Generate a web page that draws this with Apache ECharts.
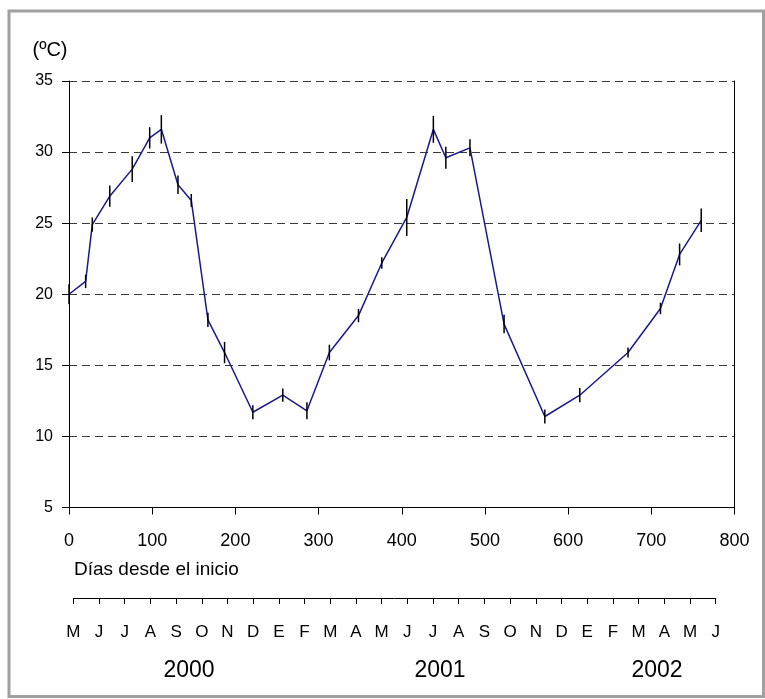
<!DOCTYPE html>
<html>
<head>
<meta charset="utf-8">
<script src="https://cdn.jsdelivr.net/npm/echarts@6/dist/echarts.min.js"></script>
<style>html,body{margin:0;padding:0;background:#fff}#c{width:765px;height:699px}</style>
</head>
<body>
<div id="c"></div>
<script>
// Días desde el inicio
const days = [0, 20, 28, 49, 76, 97, 111, 131, 147, 167, 187, 221, 257, 286, 313, 348, 376, 406, 438, 453, 482, 523, 572, 614, 672, 711, 734, 760];
// Temperatura (ºC)
const temps = [20.0, 20.9, 24.9, 26.9, 28.8, 31.0, 31.6, 27.7, 26.6, 18.2, 15.9, 11.7, 12.9, 11.8, 15.9, 18.5, 22.2, 25.4, 31.6, 29.6, 30.3, 17.9, 11.4, 12.9, 15.9, 19.0, 22.8, 25.2];
// Error (±)
const errs = [0.7, 0.47, 0.5, 0.75, 0.9, 0.75, 1.0, 0.65, 0.45, 0.5, 0.75, 0.5, 0.47, 0.6, 0.55, 0.47, 0.4, 1.3, 0.95, 0.77, 0.6, 0.65, 0.5, 0.5, 0.35, 0.4, 0.77, 0.83];
// Month tick labels
const months = ['M','J','J','A','S','O','N','D','E','F','M','A','M','J','J','A','S','O','N','D','E','F','M','A','M','J'];
const years = ['2000', '2001', '2002'];
const yearPos = [189, 440, 657];

const lineData = days.map((d, i) => [d, temps[i]]);
const errData = days.map((d, i) => [d, temps[i] - errs[i], temps[i] + errs[i]]);

const chart = echarts.init(document.getElementById('c'));
const font = "'Liberation Sans', Arial, sans-serif";
chart.setOption({
  animation: false,
  backgroundColor: '#fff',
  grid: [
    {left: 69, right: 30.5, top: 81, bottom: 191.5},
    {left: 73.3, right: 49.3, top: 598, bottom: 101}
  ],
  xAxis: [
    {
      type: 'value', gridIndex: 0, min: 0, max: 800, interval: 100,
      axisLine: {show: true, onZero: false, lineStyle: {color: '#000', width: 1}},
      axisTick: {show: true, length: 7, lineStyle: {color: '#000'}},
      axisLabel: {color: '#000', fontSize: 18, fontFamily: font, margin: 25},
      splitLine: {show: false}
    },
    {
      type: 'value', gridIndex: 1, min: 0, max: months.length - 1, interval: 1,
      axisLine: {show: true, onZero: false, lineStyle: {color: '#000', width: 1}},
      axisTick: {show: true, length: 6, lineStyle: {color: '#000'}},
      axisLabel: {color: '#000', fontSize: 17, fontFamily: font, margin: 26, formatter: v => months[v] || ''},
      splitLine: {show: false}
    }
  ],
  yAxis: [
    {
      type: 'value', gridIndex: 0, min: 5, max: 35, interval: 5,
      axisLine: {show: true, onZero: false, lineStyle: {color: '#000', width: 1}},
      axisTick: {show: true, length: 7, lineStyle: {color: '#000'}},
      axisLabel: {color: '#000', fontSize: 16, fontFamily: font, margin: 16},
      splitLine: {show: true, lineStyle: {color: '#3a3a3a', width: 1, type: [8, 5]}}
    },
    {
      type: 'value', gridIndex: 0, min: 5, max: 35, position: 'right',
      axisLine: {show: true, onZero: false, lineStyle: {color: '#000', width: 1}},
      axisTick: {show: false}, axisLabel: {show: false}, splitLine: {show: false}
    },
    {
      type: 'value', gridIndex: 1, show: false
    }
  ],
  series: [
    {
      type: 'line', xAxisIndex: 0, yAxisIndex: 0, data: lineData,
      symbol: 'none', lineStyle: {color: '#1a1a8c', width: 1.5}, z: 3
    },
    {
      type: 'custom', xAxisIndex: 0, yAxisIndex: 0, data: errData, z: 4,
      renderItem: function (params, api) {
        const lo = api.coord([api.value(0), api.value(1)]);
        const hi = api.coord([api.value(0), api.value(2)]);
        return {
          type: 'line',
          shape: {x1: lo[0], y1: lo[1], x2: hi[0], y2: hi[1]},
          style: {stroke: '#000', lineWidth: 1.5}
        };
      }
    }
  ],
  graphic: [
    {type: 'rect', shape: {x: 9, y: 11, width: 754.5, height: 685.5}, style: {fill: null, stroke: '#a0a0a0', lineWidth: 3}, silent: true},
    {type: 'text', x: 50, y: 50, style: {text: '(ºC)', fontSize: 20, fontFamily: font, fill: '#000', align: 'center', verticalAlign: 'middle'}},
    {type: 'text', x: 74, y: 570, style: {text: 'Días desde el inicio', fontSize: 19, fontFamily: font, fill: '#000', align: 'left', verticalAlign: 'middle'}}
  ].concat(years.map((y, i) => ({
    type: 'text', x: yearPos[i], y: 671,
    style: {text: y, fontSize: 23, fontFamily: font, fill: '#000', align: 'center', verticalAlign: 'middle'}
  })))
});
</script>
</body>
</html>
